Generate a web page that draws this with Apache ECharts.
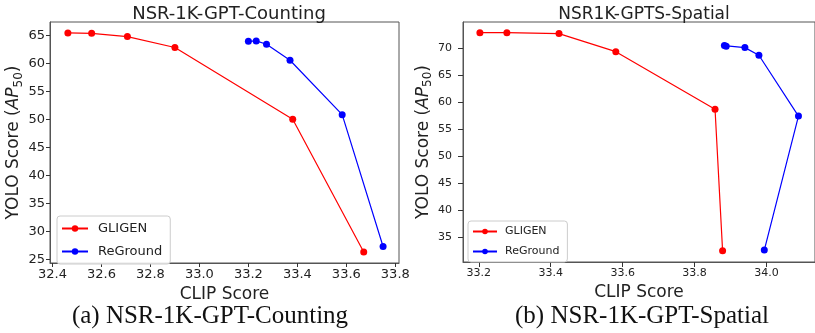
<!DOCTYPE html>
<html>
<head>
<meta charset="utf-8">
<script src="https://cdn.jsdelivr.net/npm/echarts@6/dist/echarts.min.js"></script>
<style>
  html, body { margin: 0; padding: 0; background: #fff; }
  #chart { width: 815px; height: 333px; }
</style>
</head>
<body>
<div id="chart"></div>
<script>
// values
const seriesNames = ['GLIGEN', 'ReGround'];

// (a) NSR-1K-GPT-Counting
const gligenCountX = [32.463, 32.560, 32.706, 32.900, 33.381, 33.671];
const gligenCountY = [65.42, 65.35, 64.77, 62.83, 50.05, 26.37];
const regroundCountX = [33.200, 33.232, 33.274, 33.370, 33.583, 33.750];
const regroundCountY = [63.93, 64.00, 63.40, 60.56, 50.86, 27.36];

// (b) NSR-1K-GPT-Spatial
const gligenSpatialX = [33.203, 33.278, 33.423, 33.581, 33.857, 33.878];
const gligenSpatialY = [72.83, 72.83, 72.65, 69.31, 58.65, 32.46];
const regroundSpatialX = [33.883, 33.888, 33.940, 33.979, 34.089, 33.994];
const regroundSpatialY = [70.43, 70.31, 70.06, 68.65, 57.40, 32.60];

// tick labels
const xTicksCount = [32.4, 32.6, 32.8, 33.0, 33.2, 33.4, 33.6, 33.8];
const yTicksCount = [25, 30, 35, 40, 45, 50, 55, 60, 65];
const xTicksSpatial = [33.2, 33.4, 33.6, 33.8, 34.0];
const yTicksSpatial = [35, 40, 45, 50, 55, 60, 65, 70];

const zip = (xs, ys) => xs.map((x, i) => [x, ys[i]]);

const chart = echarts.init(document.getElementById('chart'), null, { renderer: 'canvas' });

const font = 'DejaVu Sans, sans-serif';
const ink = '#222';

function yName(size, sub) {
  return {
    name: '{a|YOLO Score (}{i|AP}{s|50}{a|)}',
    nameLocation: 'middle',
    nameRotate: 90,
    nameTextStyle: {
      rich: {
        a: { fontFamily: font, fontSize: size, color: ink, lineHeight: size + 4 },
        i: { fontFamily: font, fontSize: size, fontStyle: 'italic', color: ink, lineHeight: size + 4 },
        s: { fontFamily: font, fontSize: sub, color: ink, lineHeight: sub, verticalAlign: 'bottom' }
      }
    }
  };
}

function valueAxis(gridIndex, min, max, ticks, fontSize, margin, tickLen, fmt) {
  return {
    type: 'value',
    gridIndex: gridIndex,
    min: min,
    max: max,
    splitLine: { show: false },
    axisLine: { show: true, onZero: false, lineStyle: { color: '#555', width: 1 } },
    axisTick: { show: true, length: tickLen, customValues: ticks, lineStyle: { color: '#333' } },
    axisLabel: {
      customValues: ticks,
      fontFamily: font,
      fontSize: fontSize,
      color: ink,
      margin: margin,
      formatter: fmt
    }
  };
}

function lineSeries(name, color, data, xi, yi) {
  return {
    name: name,
    type: 'line',
    xAxisIndex: xi,
    yAxisIndex: yi,
    data: data,
    symbol: 'circle',
    symbolSize: 7,
    color: color,
    lineStyle: { color: color, width: 1.2 },
    itemStyle: { color: color },
    animation: false
  };
}

const option = {
  backgroundColor: '#fff',
  animation: false,
  title: [
    { text: 'NSR-1K-GPT-Counting', left: 224, top: 0, textAlign: 'center',
      textStyle: { fontFamily: font, fontSize: 18, fontWeight: 'normal', color: ink } },
    { text: 'NSR1K-GPTS-Spatial', left: 639, top: 1, textAlign: 'center',
      textStyle: { fontFamily: font, fontSize: 17, fontWeight: 'normal', color: ink } },
    { text: '(a) NSR-1K-GPT-Counting', left: 205, top: 299, textAlign: 'center',
      textStyle: { fontFamily: 'Liberation Serif, serif', fontSize: 25, fontWeight: 'normal', color: '#111' } },
    { text: '(b) NSR-1K-GPT-Spatial', left: 637, top: 299, textAlign: 'center',
      textStyle: { fontFamily: 'Liberation Serif, serif', fontSize: 25, fontWeight: 'normal', color: '#111' } }
  ],
  grid: [
    { left: 50, top: 22, width: 349, height: 241, show: true, borderColor: '#555', borderWidth: 1, backgroundColor: 'transparent' },
    { left: 463, top: 22, width: 354, height: 240, show: true, borderColor: '#555', borderWidth: 1, backgroundColor: 'transparent' }
  ],
  legend: [
    {
      data: seriesNames, orient: 'vertical', left: 57, top: 216,
      itemWidth: 26, itemHeight: 8, itemGap: 10,
      padding: [6, 8, 6, 4],
      borderColor: '#ccc', borderWidth: 1, borderRadius: 3,
      backgroundColor: 'rgba(255,255,255,0.85)',
      textStyle: { fontFamily: font, fontSize: 13, color: ink, padding: [0, 0, 0, 5] }
    },
    {
      data: seriesNames, orient: 'vertical', left: 468, top: 221,
      itemWidth: 24, itemHeight: 7, itemGap: 9,
      padding: [5, 8, 5, 4],
      borderColor: '#ccc', borderWidth: 1, borderRadius: 3,
      backgroundColor: 'rgba(255,255,255,0.85)',
      textStyle: { fontFamily: font, fontSize: 11, color: ink, padding: [0, 0, 0, 3] }
    }
  ],
  xAxis: [
    Object.assign(valueAxis(0, 32.39, 33.815, xTicksCount, 13, 5, 4, v => v.toFixed(1)), {
      name: 'CLIP Score', nameLocation: 'middle', nameGap: 19,
      nameTextStyle: { fontFamily: font, fontSize: 17, color: ink }
    }),
    Object.assign(valueAxis(1, 33.156, 34.135, xTicksSpatial, 11, 6, 5, v => v.toFixed(1)), {
      name: 'CLIP Score', nameLocation: 'middle', nameGap: 19,
      nameTextStyle: { fontFamily: font, fontSize: 17, color: ink }
    })
  ],
  yAxis: [
    Object.assign(valueAxis(0, 24.42, 67.37, yTicksCount, 13, 5, 4, v => String(v)), yName(17, 12), { nameGap: 24 }),
    Object.assign(valueAxis(1, 30.4, 74.8, yTicksSpatial, 11, 11, 5, v => String(v)), yName(17, 12), { nameGap: 25 })
  ],
  series: [
    lineSeries('GLIGEN', '#ff0000', zip(gligenCountX, gligenCountY), 0, 0),
    lineSeries('ReGround', '#0000ff', zip(regroundCountX, regroundCountY), 0, 0),
    lineSeries('GLIGEN', '#ff0000', zip(gligenSpatialX, gligenSpatialY), 1, 1),
    lineSeries('ReGround', '#0000ff', zip(regroundSpatialX, regroundSpatialY), 1, 1)
  ]
};

chart.setOption(option);
</script>
</body>
</html>
